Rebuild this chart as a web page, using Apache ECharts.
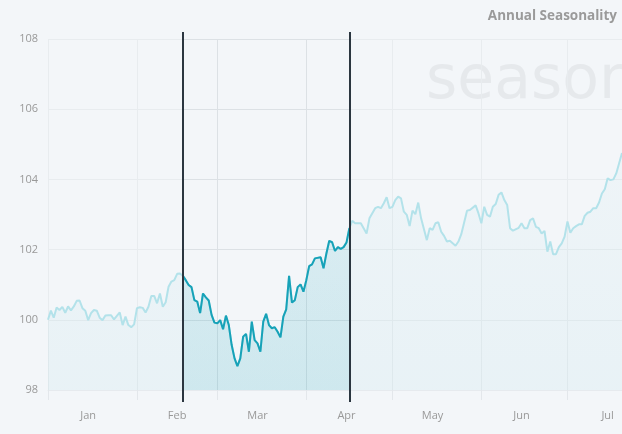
<!DOCTYPE html>
<html><head><meta charset="utf-8">
<script src="https://cdn.jsdelivr.net/npm/echarts@6/dist/echarts.min.js"></script>
<style>html,body{margin:0;padding:0;background:#f3f6f9}#c{width:622px;height:434px}</style>
</head><body><div id="c"></div>
<script>
const monthNames = ['Jan','Feb','Mar','Apr','May','Jun','Jul'];
const monthDays = [31,28,31,30,31,30,31];
const dayCount = 201; // Jan 1 .. Jul 20
const yMin = 98, yMax = 108, yStep = 2;
const windowStart = 47;  // Feb 17
const windowEnd = 105;   // Apr 15
const values = [
100.00,100.26,100.06,100.35,100.28,100.37,100.20,100.38,100.27,100.38,
100.54,100.55,100.33,100.26,99.99,100.19,100.28,100.26,100.06,99.99,
100.12,100.13,100.13,100.01,null,100.21,99.85,100.09,99.85,99.79,
99.87,100.33,100.36,100.34,100.21,100.37,100.68,100.68,100.47,100.75,
100.37,100.50,100.94,101.09,101.13,101.31,101.32,101.25,101.13,100.99,
100.93,100.56,100.52,100.19,100.75,100.64,100.55,100.14,99.92,99.90,
99.99,99.73,100.12,99.85,99.28,98.90,98.68,98.90,99.52,99.60,
99.09,99.95,99.42,99.33,99.09,99.95,100.17,99.85,99.76,99.79,
99.66,99.50,100.09,100.30,101.25,100.49,100.56,100.93,101.01,100.80,
101.13,101.53,101.58,101.75,null,101.78,101.47,101.89,102.25,102.21,
101.96,102.07,102.02,102.07,102.20,102.61,102.82,102.75,null,102.75,
null,102.46,102.89,null,103.18,103.22,103.18,103.32,103.49,103.18,
103.22,103.41,103.51,103.46,103.08,102.99,102.67,103.11,103.01,103.34,
102.89,102.58,102.27,102.61,102.56,102.75,102.78,102.51,102.39,102.23,
102.25,null,102.11,102.23,102.44,null,103.11,103.13,null,103.26,
103.03,102.75,103.22,102.99,102.94,103.22,103.30,103.56,103.63,103.41,
103.27,102.61,102.54,null,102.62,102.75,102.61,102.61,102.84,102.89,
102.65,102.61,102.46,102.53,101.94,102.23,101.87,101.87,102.07,102.18,
102.37,102.80,102.48,102.61,102.67,102.72,102.72,102.96,103.05,103.08,
103.18,103.18,103.34,103.60,103.72,104.03,103.98,104.00,104.17,104.46,
104.75
];

const categories = [];
const monthStarts = [];
let acc = 0;
monthDays.forEach((n, m) => {
  monthStarts.push(acc);
  for (let d = 1; d <= n; d++) {
    if (categories.length < dayCount) categories.push(monthNames[m] + ' ' + d);
  }
  acc += n;
});
const labelIdx = monthStarts.map(s => s + 14);
const isMonthStart = (i) => monthStarts.indexOf(i) >= 0;

const windowData = values.map((v, i) => (i >= windowStart && i <= windowEnd) ? v : null);

const gridPairs = [];
for (let v = yMin + yStep; v <= yMax; v += yStep) {
  gridPairs.push([{coord: [categories[windowStart], v]}, {coord: [categories[windowEnd], v]}]);
}
monthStarts.filter(s => s > windowStart && s < windowEnd).forEach(s => {
  gridPairs.push([{coord: [categories[s], yMin]}, {coord: [categories[s], yMax]}]);
});

const font = '"Open Sans", sans-serif';
const chart = echarts.init(document.getElementById('c'));
chart.setOption({
  backgroundColor: '#f3f6f9',
  animation: false,
  title: {
    text: 'Annual Seasonality', right: 5, top: 9, padding: 0,
    textStyle: {color: '#9a9a9a', fontSize: 13.5, fontWeight: 'bold', fontFamily: font}
  },
  graphic: [{
    type: 'text', left: 426, top: 52, z: -10, silent: true,
    style: {text: 'seasonax', fill: '#e6e9ec', font: '60px "DejaVu Sans"'}
  }],
  grid: [
    {left: 48, right: 0, top: 39, bottom: 44},
    {left: 48, right: 0, top: 32, bottom: 32}
  ],
  xAxis: [{
    type: 'category', data: categories, boundaryGap: false,
    axisLine: {show: true, lineStyle: {color: '#e6eaee'}},
    axisTick: {show: true, length: 10, interval: (i) => isMonthStart(i), lineStyle: {color: '#e3e7eb'}},
    axisLabel: {
      interval: (i) => labelIdx.indexOf(i) >= 0,
      formatter: (val, i) => monthNames[monthStarts.filter(s => s <= i).length - 1],
      color: '#999', fontSize: 11, margin: 20, fontFamily: font
    },
    splitLine: {show: true, interval: (i) => isMonthStart(i), lineStyle: {color: '#e8ecef'}}
  }, {
    type: 'category', gridIndex: 1, data: categories, boundaryGap: false, show: false
  }],
  yAxis: [{
    type: 'value', min: yMin, max: yMax, interval: yStep,
    axisLine: {show: false}, axisTick: {show: false},
    axisLabel: {color: '#999', fontSize: 11, margin: 10, fontFamily: font},
    splitLine: {show: true, lineStyle: {color: '#e8ecef'}}
  }, {
    type: 'value', gridIndex: 1, min: 0, max: 1, show: false
  }],
  series: [{
    type: 'line', data: values, connectNulls: true, showSymbol: false, z: 2,
    lineStyle: {color: '#b3e2ea', width: 2}, itemStyle: {color: '#b3e2ea'},
    areaStyle: {color: new echarts.graphic.LinearGradient(0, 0, 0, 1, [
      {offset: 0, color: 'rgba(26,163,185,0.03)'}, {offset: 1, color: 'rgba(26,163,185,0.07)'}])},
    emphasis: {disabled: true}
  }, {
    type: 'line', data: windowData, connectNulls: true, showSymbol: false, z: 3,
    lineStyle: {color: '#17a2b8', width: 2}, itemStyle: {color: '#17a2b8'},
    areaStyle: {color: new echarts.graphic.LinearGradient(0, 0, 0, 1, [
      {offset: 0, color: 'rgba(26,163,185,0.13)'}, {offset: 1, color: 'rgba(26,163,185,0.18)'}])},
    emphasis: {disabled: true},
    markLine: {
      silent: true, z: 1, symbol: ['none', 'none'], label: {show: false},
      lineStyle: {color: '#dce1e5', width: 1, type: 'solid'},
      emphasis: {disabled: true},
      data: gridPairs
    }
  }, {
    type: 'line', xAxisIndex: 1, yAxisIndex: 1, data: [], z: 10,
    markLine: {
      silent: true, symbol: ['none', 'none'], label: {show: false},
      lineStyle: {color: '#2b3640', width: 2, type: 'solid'},
      emphasis: {disabled: true},
      data: [{xAxis: categories[windowStart]}, {xAxis: categories[windowEnd]}]
    }
  }]
});
</script>
</body></html>
